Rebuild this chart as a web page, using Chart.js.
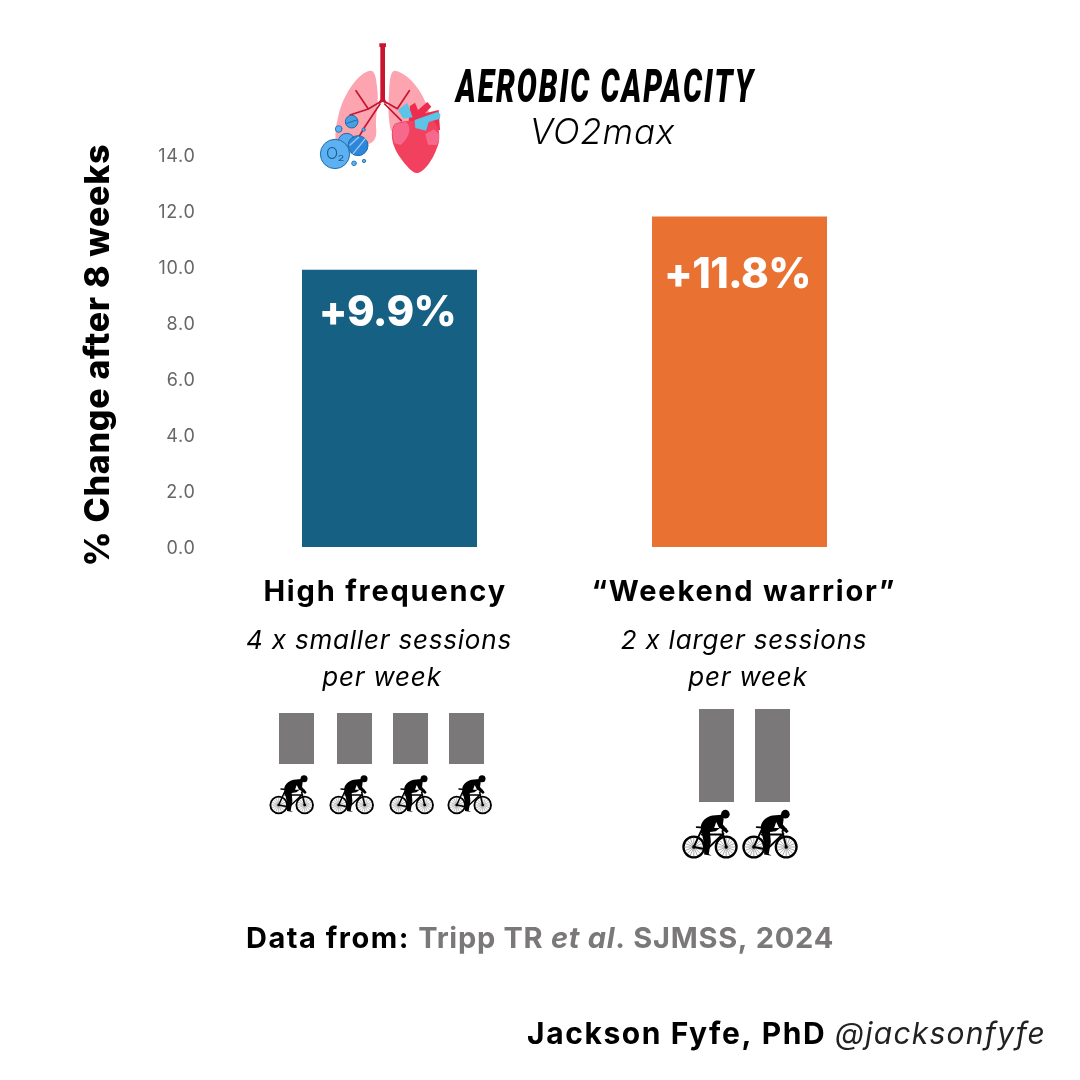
<!DOCTYPE html>
<html>
<head>
<meta charset="utf-8">
<style>html,body{margin:0;padding:0;background:#fff}canvas{display:block}</style>
<script src="https://cdn.jsdelivr.net/npm/chart.js@4"></script>
</head>
<body>
<canvas id="c" width="1080" height="1080"></canvas>
<script>
const categories = ["High frequency", "\u201cWeekend warrior\u201d"];
const changeValues = [9.9, 11.8];
const barColors = ["#166083", "#E97132"];
const yTicks = [0, 2, 4, 6, 8, 10, 12, 14];
const yTitle = "% Change after 8 weeks";
const sessionNotes = [["4 x smaller sessions", "per week"], ["2 x larger sessions", "per week"]];
const FONT = "Inter";

function text(ctx, str, x, y, font, color, align, spacing) {
  ctx.font = font; ctx.fillStyle = color; ctx.textAlign = align || "center";
  ctx.textBaseline = "middle"; ctx.letterSpacing = (spacing || 0) + "px";
  ctx.fillText(str, x, y); ctx.letterSpacing = "0px";
}
function runs(ctx, parts, x, y) {
  ctx.textAlign = "left"; ctx.textBaseline = "middle";
  for (const p of parts) {
    ctx.font = p[1]; ctx.fillStyle = p[2]; ctx.letterSpacing = (p[3] || 0) + "px";
    ctx.fillText(p[0], x, y); x += ctx.measureText(p[0]).width;
  }
  ctx.letterSpacing = "0px";
}
function spaced(scale, px) {
  const orig = scale._layers.bind(scale);
  scale._layers = () => orig().map(l => ({
    z: l.z,
    draw(area) {
      scale.ctx.letterSpacing = px + "px";
      l.draw(area);
      scale.ctx.letterSpacing = "0px";
    }
  }));
}
function poly(ctx, fill, d) { ctx.fillStyle = fill; ctx.fill(new Path2D(d)); }
function circle(ctx, x, y, r, fill, stroke, lw) {
  ctx.beginPath(); ctx.arc(x, y, r, 0, Math.PI * 2);
  if (fill) { ctx.fillStyle = fill; ctx.fill(); }
  if (stroke) { ctx.strokeStyle = stroke; ctx.lineWidth = lw; ctx.stroke(); }
}
function cyclist(ctx, cx, cy, s) {
  ctx.save(); ctx.translate(cx, cy); ctx.scale(s, s);
  for (const wx of [-39, 39]) {
    ctx.strokeStyle = "#777"; ctx.lineWidth = 1.5;
    for (let i = 0; i < 16; i++) {
      const a = i * Math.PI / 8;
      ctx.beginPath(); ctx.moveTo(wx, 0); ctx.lineTo(wx + 25 * Math.cos(a), 25 * Math.sin(a)); ctx.stroke();
    }
    circle(ctx, wx, 0, 25, null, "#000", 5.5);
    circle(ctx, wx, 0, 4, "#000");
  }
  ctx.strokeStyle = "#000"; ctx.lineWidth = 4.5; ctx.lineCap = "round";
  ctx.stroke(new Path2D("M-39,0 L-8,6 L-20,-42 M-8,6 L30,-30 L-20,-30 M39,0 L30,-38 L38,-44 M-39,0 L-20,-42 M-32,-48 L-8,-46"));
  poly(ctx, "#000", "M-22,-44 C-24,-62 -8,-73 6,-76 L28,-78 L33,-68 L31,-54 L45,-38 L40,-33 L24,-46 L14,-38 L0,-36 L2,-12 L-3,17 L4,21 L-14,18 L-15,-20 Z");
  poly(ctx, "#fff", "M15,-60 L22,-46 L10,-46 Z");
  circle(ctx, 37, -79, 10.5, "#000");
  ctx.restore();
}
function emblem(ctx) {
  ctx.save(); ctx.translate(300, 30); ctx.scale(1 / 3, 1 / 3);
  poly(ctx, "#FCA4B0", "M212,122 C178,124 130,190 115,258 C104,300 104,335 112,350 L200,345 C224,335 232,325 228,290 C226,250 238,215 231,170 C228,140 224,122 212,122 Z");
  poly(ctx, "#FCA4B0", "M285,122 C322,128 368,180 385,240 L400,290 L300,330 L272,300 C262,250 266,210 268,170 C270,140 274,122 285,122 Z");
  ctx.strokeStyle = "#C9142F"; ctx.lineCap = "round"; ctx.lineJoin = "round";
  ctx.lineWidth = 5;
  ctx.stroke(new Path2D("M246,212 L205,237 L150,255 M205,237 L168,182 M240,222 L196,288 L172,328 M250,212 L292,236 L328,182 M254,222 L304,272"));
  poly(ctx, "#C9142F", "M238,40 H258 V50 L255,52 V208 L262,222 L248,216 L234,222 L241,208 V52 L238,50 Z");
  poly(ctx, "#EE2C4D", "M330,228 L345,218 L354,240 L382,216 L394,230 L375,250 L416,240 L420,300 L340,310 L326,275 Z");
  poly(ctx, "#F2405F", "M284,282 C270,300 272,342 300,382 C320,410 340,432 352,429 C376,425 405,380 417,335 C421,305 414,282 398,272 C370,272 310,268 284,282 Z");
  poly(ctx, "#F7698C", "M284,282 L318,276 C336,290 330,322 302,345 L284,340 C276,320 276,300 284,285 Z");
  poly(ctx, "#F7698C", "M376,312 L402,298 L417,312 L417,332 L410,345 L384,344 Z");
  poly(ctx, "#5CC4E6", "M294,240 L322,218 L338,262 L310,266 Z");
  poly(ctx, "#5CC4E6", "M344,270 L412,246 L421,252 L420,266 L386,276 L378,302 L346,294 Z");
  circle(ctx, 140, 335, 25, "#58A9EE", "#1B6FA8", 3);
  circle(ctx, 174, 347, 30, "#2E86DC", "#1B6FA8", 3);
  ctx.strokeStyle = "#9CCBF2"; ctx.lineWidth = 4;
  ctx.stroke(new Path2D("M160,370 L196,326 M150,345 L176,322"));
  circle(ctx, 155, 275, 19, "#4A9FE0", "#1B6FA8", 3);
  ctx.stroke(new Path2D("M140,280 L170,270"));
  circle(ctx, 105, 372, 44, "#5DB1F2", "#1B6FA8", 3);
  circle(ctx, 116, 297, 10, "#5DB1F2", "#1B6FA8", 2.5);
  circle(ctx, 191, 299, 5, "#5DB1F2", "#1B6FA8", 2.5);
  circle(ctx, 162, 400, 7, "#5DB1F2", "#1B6FA8", 2.5);
  circle(ctx, 192, 393, 5, "#5DB1F2", "#1B6FA8", 2.5);
  text(ctx, "O\u2082", 106, 374, "300 48px " + FONT, "#1B5F90");
  ctx.restore();
}
function banner(ctx) {
  const font = "italic 900 46px Roboto", label = "AEROBIC CAPACITY";
  ctx.save();
  ctx.font = font; ctx.letterSpacing = "3px"; ctx.textAlign = "left"; ctx.textBaseline = "alphabetic";
  const w = ctx.measureText(label).width;
  ctx.translate(456, 102); ctx.scale(299 / w, 1);
  ctx.fillStyle = "#000"; ctx.fillText(label, 0, 0);
  ctx.restore();
  ctx.letterSpacing = "0px";
}
const overlay = {
  id: "overlay",
  afterDatasetsDraw(chart) {
    const ctx = chart.ctx, x = chart.scales.x, y = chart.scales.y;
    const drops = [44, 59];
    changeValues.forEach((v, i) => {
      text(ctx, "+" + v.toFixed(1) + "%", x.getPixelForValue(i) - 2, y.getPixelForValue(v) + drops[i],
        "800 42px " + FONT, "#fff", "center", -0.6);
    });
  },
  afterDraw(chart) {
    const ctx = chart.ctx;
    emblem(ctx);
    banner(ctx);
    text(ctx, "VO2max", 602.5, 133, "italic 300 35px " + FONT, "#000", "center", 0.8);

    const centers = [[379, 382], [744, 748]];
    sessionNotes.forEach((lines, i) => lines.forEach((l, j) =>
      text(ctx, l, centers[i][j], 641 + j * 37, "italic 400 26px " + FONT, "#000", "center", 0.8)));

    ctx.fillStyle = "#7A7879";
    [279, 337, 393, 449].forEach(bx => ctx.fillRect(bx, 713, 35, 51));
    [699, 755].forEach(bx => ctx.fillRect(bx, 709, 35, 93));
    [291.7, 351.7, 411.7, 469.7].forEach(cx => cyclist(ctx, cx, 805, 1 / 3));
    [710, 770].forEach(cx => cyclist(ctx, cx, 847, 0.415));

    const g = "#7A7879";
    runs(ctx, [
      ["Data from: ", "700 29px " + FONT, "#000", 1.5],
      ["Tripp TR ", "700 29px " + FONT, g, 0.72],
      ["et al", "italic 700 29px " + FONT, g, 0.72],
      [". SJMSS, 2024", "700 29px " + FONT, g, 0.72]
    ], 246, 939);
    runs(ctx, [
      ["Jackson Fyfe, PhD ", "700 30px " + FONT, "#000", 1.6],
      ["@jacksonfyfe", "italic 400 30px " + FONT, "#222", 1.25]
    ], 527, 1035);
  }
};
new Chart(document.getElementById("c"), {
  type: "bar",
  data: {
    labels: categories,
    datasets: [{
      data: changeValues,
      backgroundColor: barColors,
      barPercentage: 0.5,
      categoryPercentage: 1
    }]
  },
  options: {
    responsive: false,
    animation: false,
    devicePixelRatio: 1,
    layout: { padding: { left: 78, right: 165.5, top: 155, bottom: 463 } },
    plugins: { legend: { display: false }, tooltip: { enabled: false } },
    scales: {
      x: {
        grid: { display: false, drawTicks: false },
        border: { display: false },
        afterFit(s) { s.height = 70; },
        afterUpdate(s) { spaced(s, 1.8); },
        ticks: {
          color: "#000", padding: 28, maxRotation: 0, autoSkip: false,
          font: { family: FONT, weight: "700", size: 29 },
          callback(v, i) {
            return i === 0 ? categories[i] + "\u00a0" : "\u00a0" + categories[i];
          }
        }
      },
      y: {
        min: 0, max: 14,
        afterBuildTicks(s) { s.ticks = yTicks.map(v => ({ value: v })); },
        afterFit(s) { s.width = 136.5; },
        afterUpdate(s) { spaced(s, 0.7); },
        grid: { display: false, drawTicks: false },
        border: { display: false },
        title: {
          display: true, text: yTitle + "\u00a0", color: "#000", padding: { top: 0, bottom: 0 },
          font: { family: FONT, weight: "800", size: 34 }
        },
        ticks: {
          color: "#666", padding: 19, crossAlign: "near", labelOffset: 2,
          font: { family: FONT, size: 18 },
          callback(v) { return v.toFixed(1); }
        }
      }
    }
  },
  plugins: [overlay]
});
</script>
</body>
</html>
